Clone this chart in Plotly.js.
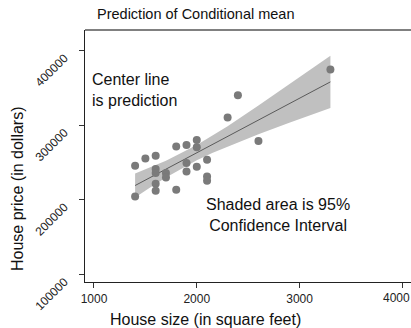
<!DOCTYPE html>
<html>
<head>
<meta charset="utf-8">
<script src="https://cdn.plot.ly/plotly-3.0.1.min.js"></script>
<style>
html,body{margin:0;padding:0;background:#fff;overflow:hidden;}
#chart{width:411px;height:328px;}
</style>
</head>
<body>
<div id="chart"></div>
<script>
// Observed houses
var houseSize = [1400, 1400, 1500, 1600, 1600, 1600, 1600, 1600, 1700, 1700, 1800, 1800, 1900, 1900, 1900, 2000, 2000, 2000, 2100, 2100, 2100, 2300, 2400, 2600, 3300];
var housePrice = [245600, 204300, 255400, 259000, 241100, 235700, 221400, 212000, 235700, 229800, 271500, 213300, 273400, 249200, 237900, 280100, 270200, 244200, 253600, 231200, 225400, 310100, 340100, 278800, 374600];

// Prediction line and 95% confidence band
var fitX  = [1400, 1550, 1700, 2000, 2150, 2300, 2600, 2900, 3100, 3300];
var fitY  = [219000, 230000, 241000, 263000, 274000, 285000, 307000, 329000, 343600, 358000];
var ciHi  = [235000, 243400, 252200, 273200, 285500, 298600, 326400, 354900, 374000, 393000];
var ciLo  = [203000, 216700, 229800, 252800, 262500, 271400, 287600, 303100, 313200, 323000];

// Axis ticks
var xTicks = [1000, 2000, 3000, 4000];
var xTickText = ["1000", "2000", "3000", ""];   // last label drawn as an annotation so it stays inside the page
var lastXTick = 4000;
var yTicks = [100000, 200000, 300000, 400000];

var titleText = "Prediction of Conditional mean";
var xTitle = "House size (in square feet)";
var yTitle = "House price (in dollars)";
var note1 = "Center line<br>is prediction";
var note2 = "Shaded area is 95%<br>Confidence Interval";

var FONT = "Liberation Sans, Arial, Helvetica, sans-serif";

var bandX = fitX.concat(fitX.slice().reverse());
var bandY = ciHi.concat(ciLo.slice().reverse());

var traces = [
  {x: bandX, y: bandY, type: "scatter", mode: "lines", fill: "toself",
   fillcolor: "#c0c0c0", line: {width: 0, color: "#c0c0c0"}, hoverinfo: "skip", showlegend: false},
  {x: fitX, y: fitY, type: "scatter", mode: "lines",
   line: {color: "#5a5a5a", width: 1}, showlegend: false},
  {x: houseSize, y: housePrice, type: "scatter", mode: "markers",
   marker: {color: "#7a7a7a", size: 8}, showlegend: false}
];

var layout = {
  width: 411, height: 328,
  margin: {l: 85, r: 0, t: 30, b: 46, pad: 0},
  paper_bgcolor: "#fff", plot_bgcolor: "#fff",
  font: {family: FONT, color: "#222", size: 12},
  title: {text: titleText, font: {family: FONT, size: 14.5, color: "#111"},
          xref: "container", yref: "container", x: 97/411, xanchor: "left", y: 1 - 14/328, yanchor: "middle"},
  xaxis: {range: [912.5, 4084], tickvals: xTicks, ticktext: xTickText,
          ticks: "outside", ticklen: 5, tickcolor: "#333", tickwidth: 1,
          showline: true, linecolor: "#222", linewidth: 1.2,
          showgrid: false, zeroline: false, tickfont: {size: 12, color: "#222"}},
  yaxis: {range: [89650, 427550], tickvals: yTicks, ticktext: yTicks.map(String),
          tickangle: -45, ticks: "outside", ticklen: 5, tickcolor: "#333", tickwidth: 1,
          showline: true, linecolor: "#222", linewidth: 1.2, ticklabeloverflow: "allow",
          showgrid: false, zeroline: false, tickfont: {size: 12, color: "#222"},
          ticklabelshift: 6, ticklabelstandoff: 12},
  shapes: [
    {type: "line", xref: "paper", yref: "paper", x0: 0, x1: 1, y0: 1, y1: 1,
     line: {color: "#808080", width: 2}}
  ],
  annotations: [
    {text: String(lastXTick), xref: "x", yref: "paper", x: lastXTick, y: (282-297.5)/252,
     xanchor: "center", yanchor: "middle", xshift: -6, showarrow: false, font: {size: 12, color: "#222"}},
    {text: xTitle, xref: "paper", yref: "paper", x: (205-85)/326, y: (282-319)/252,
     xanchor: "center", yanchor: "middle", showarrow: false, font: {size: 16, color: "#111"}},
    {text: yTitle, xref: "paper", yref: "paper", x: (17-85)/326, y: (282-189)/252,
     xanchor: "center", yanchor: "middle", textangle: -90, showarrow: false, font: {size: 16, color: "#111"}},
    {text: note1, xref: "paper", yref: "paper", x: (90-85)/326, y: (282-90)/252,
     xanchor: "left", yanchor: "middle", align: "left", showarrow: false, font: {size: 16, color: "#111"}},
    {text: note2, xref: "paper", yref: "paper", x: (278-85)/326, y: (282-215)/252,
     xanchor: "center", yanchor: "middle", align: "center", showarrow: false, font: {size: 16, color: "#111"}}
  ]
};

Plotly.newPlot("chart", traces, layout, {displayModeBar: false, staticPlot: true});
</script>
</body>
</html>
